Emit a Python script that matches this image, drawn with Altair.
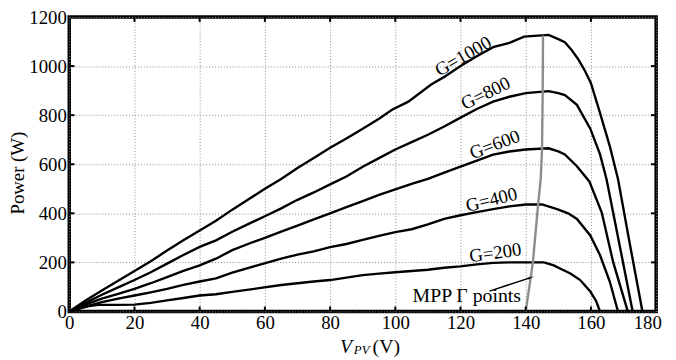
import altair as alt
import pandas as pd

# ---- data ----
v1000 = [0,5,10,15,20,25,30,35,40,45,50,55,60,65,70,75,80,85,90,95,99,104,111,115,120,125,130,135,139.5,147,150,152,154,156,158,160,162.8,165.8,168.3,172,175.8]
p1000 = [0,45,85,125,165,205,248,290,330,370,415,457,500,540,585,625,667,705,745,785,822,855,925,956,1000,1040,1077,1095,1120,1127,1110,1097,1067,1030,985,930,808,673,540,270,0]

v800 = [0,5,10,15,20,25,30,35,40,45,50,55,60,65,70,75,80,85,90,95,100,105,110,115,120,125,130,135,140,147,150,152,155.7,159.8,162.8,164.8,168.8,172.8]
p800 = [0,35,68,98,128,160,195,230,263,290,325,357,388,420,455,485,518,550,590,625,660,690,720,754,790,825,855,875,890,898,890,882,842,745,640,538,270,0]

v600 = [0,5,10,15,20,25,30,35,40,45,50,55,60,65,70,75,80,85,90,95,100,105,110,115,120,125,130,135,140,147,150,152,155.7,159.5,163.3,166.8,171.3]
p600 = [0,28,52,72,92,115,140,165,188,215,250,276,300,325,350,375,400,425,450,475,498,520,540,566,590,615,639,652,660,665,652,640,592,530,404,202,0]

v400 = [0,5,10,15,20,25,30,35,40,45,50,57.7,65,70,75,80,85,90,95,100,105,110,115,120,125,130,135,140,145,149.6,153,155.7,159.8,162.8,165.8,168.3]
p400 = [0,20,38,52,65,78,92,108,122,135,158,188,215,232,245,262,275,292,308,323,335,355,377,392,405,417,428,436,436,417,400,377,310,229,121,0]

v200 = [0,3,6,9,15,20,25,30,35,40,45,50,57.7,65,70,75,80,85,90,95,100,110,115,120,125,130,135,140,145.6,148.6,151,153.7,156.7,159.8,161.5,162.8]
p200 = [0,12,22,27,27,28,35,45,55,65,70,80,94,108,115,122,128,138,148,154,160,170,178,184,192,198,200,200,200,188,172,155,128,81,45,0]

mpp_v = [140,142.2,143.8,144.6,145,145.2,145.3]
mpp_p = [0,200,436,540,660,895,1125]

label_text = ["G=1000","G=800","G=600","G=400","G=200"]
label_v = [120.8,127.7,130.5,129.5,130.7]
label_p = [1040,889,680,455,239]
label_angle = [330,334,339,346,352]

x_ticks = [0,20,40,60,80,100,120,140,160,180]
y_ticks = [0,200,400,600,800,1000,1200]

arrow_v = [128.9,141.3]
arrow_p = [83,137]

# ---- build tables ----
rows = []
for name, vs, ps in [("G=1000", v1000, p1000), ("G=800", v800, p800), ("G=600", v600, p600),
                     ("G=400", v400, p400), ("G=200", v200, p200)]:
    for i, (v, p) in enumerate(zip(vs, ps)):
        rows.append({"curve": name, "V": v, "P": p, "order": i})
curves = pd.DataFrame(rows)
mpp = pd.DataFrame({"V": mpp_v, "P": mpp_p, "order": list(range(len(mpp_v)))})
labels = pd.DataFrame({"t": label_text, "V": label_v, "P": label_p, "a": label_angle})

xs = alt.Scale(domain=[0, 180], nice=False, zero=False)
ys = alt.Scale(domain=[0, 1200], nice=False, zero=False)

FONT = "Liberation Serif"

xaxis = alt.Axis(values=x_ticks, format="d", title=None, labelPadding=2,
                 labelOffset={"condition": {"test": "datum.value === 180", "value": -9}, "value": 0})
yaxis = alt.Axis(values=y_ticks, format="d", title=None, labelPadding=3,
                 labelOffset={"condition": {"test": "datum.value === 1200", "value": 1}, "value": 0})

base = alt.Chart(curves)

lines = base.mark_line(color="black", strokeWidth=2.4).encode(
    x=alt.X("V:Q", scale=xs, axis=xaxis),
    y=alt.Y("P:Q", scale=ys, axis=yaxis),
    detail="curve:N",
    order="order:Q",
)

mpp_line = alt.Chart(mpp).mark_line(color="#8c8c8c", strokeWidth=2.4).encode(
    x=alt.X("V:Q", scale=xs, axis=xaxis), y=alt.Y("P:Q", scale=ys, axis=yaxis), order="order:Q")

lbl = alt.Chart(labels).mark_text(font=FONT, fontSize=19, color="black", align="center",
                                  baseline="middle").encode(
    x=alt.X("V:Q", scale=xs, axis=xaxis), y=alt.Y("P:Q", scale=ys, axis=yaxis), text="t:N",
    angle=alt.Angle("a:Q", scale=None))

# inside ticks
xt = pd.DataFrame({"V": x_ticks[1:-1]})
yt = pd.DataFrame({"P": y_ticks[1:-1]})
tick_b = alt.Chart(xt).mark_rule(color="black", strokeWidth=2).encode(
    x=alt.X("V:Q", scale=xs, axis=xaxis), y=alt.datum(0, scale=ys, axis=yaxis), y2=alt.datum(20))
tick_t = alt.Chart(xt).mark_rule(color="black", strokeWidth=2).encode(
    x=alt.X("V:Q", scale=xs, axis=xaxis), y=alt.datum(1180, scale=ys, axis=yaxis), y2=alt.datum(1200))
tick_l = alt.Chart(yt).mark_rule(color="black", strokeWidth=2).encode(
    y=alt.Y("P:Q", scale=ys, axis=yaxis), x=alt.datum(0, scale=xs, axis=xaxis), x2=alt.datum(1.6))
tick_r = alt.Chart(yt).mark_rule(color="black", strokeWidth=2).encode(
    y=alt.Y("P:Q", scale=ys, axis=yaxis), x=alt.datum(178.4, scale=xs, axis=xaxis), x2=alt.datum(180))

# annotation
ann = pd.DataFrame({"t": ["MPP \u0393 points"], "V": [105.3], "P": [40]})
ann_text = alt.Chart(ann).mark_text(font=FONT, fontSize=20, color="black", align="left",
                                    baseline="alphabetic").encode(
    x=alt.X("V:Q", scale=xs, axis=xaxis), y=alt.Y("P:Q", scale=ys, axis=yaxis), text="t:N")
arr = pd.DataFrame({"V": arrow_v, "P": arrow_p, "order": [0, 1]})
arrow_line = alt.Chart(arr).mark_line(color="black", strokeWidth=1.5).encode(
    x=alt.X("V:Q", scale=xs, axis=xaxis), y=alt.Y("P:Q", scale=ys, axis=yaxis), order="order:Q")
head = alt.Chart(arr.iloc[[1]]).mark_point(shape="wedge", filled=True, color="black", size=70,
                                           opacity=1, angle=71).encode(
    x=alt.X("V:Q", scale=xs, axis=xaxis), y=alt.Y("P:Q", scale=ys, axis=yaxis))

# axis titles as text
xtitle_v = alt.Chart(pd.DataFrame({"t": ["V"]})).mark_text(font=FONT, fontSize=20, fontStyle="italic",
                                      color="black", align="left", baseline="alphabetic").encode(
    text="t:N", x=alt.value(274), y=alt.value(340))
xtitle_pv = alt.Chart(pd.DataFrame({"t": ["PV"]})).mark_text(font=FONT, fontSize=13, fontStyle="italic",
                                      color="black", align="left", baseline="alphabetic").encode(
    text="t:N", x=alt.value(288), y=alt.value(341))
xtitle_u = alt.Chart(pd.DataFrame({"t": ["(V)"]})).mark_text(font=FONT, fontSize=20, color="black",
                                      align="left", baseline="alphabetic").encode(
    text="t:N", x=alt.value(307), y=alt.value(340))
ytitle = alt.Chart(pd.DataFrame({"t": ["Power (W)"]})).mark_text(font=FONT, fontSize=19, color="black",
                                      align="center", baseline="middle", angle=270).encode(
    text="t:N", x=alt.value(-52), y=alt.value(158))

chart = alt.layer(lines, mpp_line, lbl, tick_b, tick_t, tick_l, tick_r, ann_text, arrow_line, head,
                  xtitle_v, xtitle_pv, xtitle_u, ytitle).properties(
    width=594, height=298,
    autosize=alt.AutoSizeParams(type="none"),
    padding={"left": 62, "top": 7, "right": 12, "bottom": 47},
    background="white",
).configure_view(stroke="black", strokeWidth=3.5).configure_axis(
    grid=True, gridDash=[1, 2], gridColor="#8a8a8a", gridWidth=1,
    ticks=False, tickSize=0, domain=False,
    labelFont=FONT, labelFontSize=19, labelColor="black", labelFlush=False,
).configure_text(font=FONT)

chart.save("out.html", embed_options={"renderer": "svg", "actions": False})
